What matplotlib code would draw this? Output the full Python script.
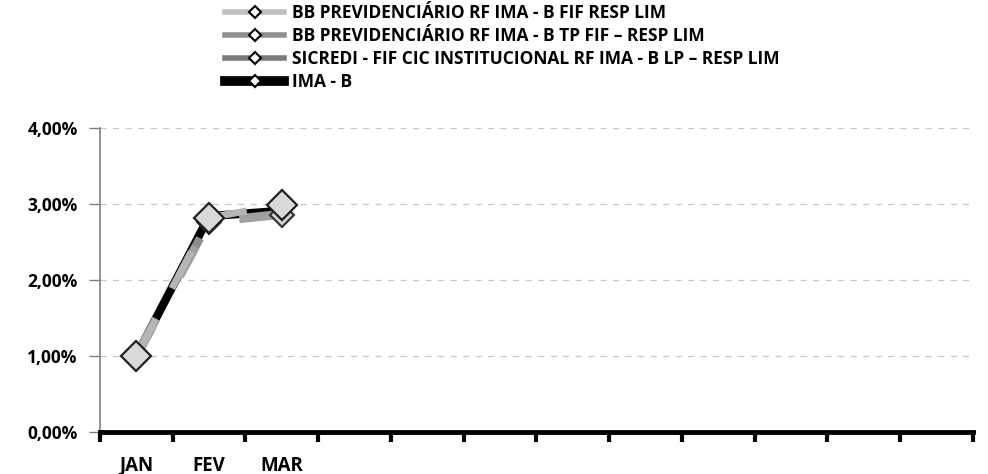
import matplotlib
matplotlib.use("Agg")
import matplotlib.pyplot as plt
from matplotlib.lines import Line2D

months = ["JAN", "FEV", "MAR", "", "", "", "", "", "", "", "", ""]
series_names = [
    "BB PREVIDENCIÁRIO RF IMA - B FIF RESP LIM",
    "BB PREVIDENCIÁRIO RF IMA - B TP FIF – RESP LIM",
    "SICREDI - FIF CIC INSTITUCIONAL RF IMA - B LP – RESP LIM",
    "IMA - B",
]
bb_fif = [1.00, 2.82, 2.99]
bb_tp = [0.99, 2.76, 2.86]
sicredi = [1.01, 2.77, 2.87]
imab = [1.00, 2.84, 2.91]
yticks = [0, 1, 2, 3, 4]

plt.rcParams['font.family'] = ['Open Sans', 'DejaVu Sans']

fig = plt.figure(figsize=(9.88, 4.74), dpi=100)
ax = fig.add_axes([0.1012, 0.0886, 0.8836, 0.6414])

x = list(range(len(bb_fif)))
# IMA-B black underneath
ax.plot(x, imab, color="black", lw=6, zorder=2, solid_capstyle="round")
ax.plot(x, imab, color="black", lw=0, marker="o", ms=6, zorder=2)
ax.plot(x, sicredi, color="#8c8c8c", lw=6, zorder=3, dashes=(5, 6))
ax.plot(x, bb_tp, color="#a0a0a0", lw=6, zorder=3, dashes=(4, 7),
        marker="D", ms=12, mfc="#d0d0d0", mec="#303030", mew=1.5)
ax.plot(x, bb_fif, color="#b5b5b5", lw=5, zorder=4, dashes=(6, 5),
        marker="D", ms=15, mfc="#d9d9d9", mec="#202020", mew=1.6)

ax.set_xlim(-0.5, 11.5)
ax.set_ylim(0, 4)
ax.set_yticks(yticks)
ax.set_yticklabels([f"{v:.2f}%".replace(".", ",") for v in yticks],
                   fontsize=12.5, fontweight="bold")
ax.set_xticks([i - 0.5 for i in range(13)])
ax.set_xticklabels([])
ax.set_xticks(range(12), minor=True)
ax.set_xticklabels(months, minor=True, fontsize=13.5, fontweight="bold")
ax.tick_params(axis="x", which="major", length=7, width=3, color="black", direction="out")
ax.tick_params(axis="x", which="minor", length=0, pad=17)
ax.tick_params(axis="y", length=8, width=1, color="#808080", pad=8)

ax.grid(axis="y", color="#c8c8c8", lw=0.9, ls=(0, (5, 5)))
ax.set_axisbelow(True)
for s in ["top", "right"]:
    ax.spines[s].set_visible(False)
ax.spines["left"].set_color("#808080")
ax.spines["left"].set_linewidth(1.2)
ax.spines["bottom"].set_color("black")
ax.spines["bottom"].set_linewidth(3.5)

handles = [
    Line2D([], [], color="#c0c0c0", lw=4, marker="D", ms=6, mfc="white", mec="black", mew=1.5),
    Line2D([], [], color="#8f8f8f", lw=4, marker="D", ms=6, mfc="white", mec="black", mew=1.5),
    Line2D([], [], color="#7a7a7a", lw=4, marker="D", ms=6, mfc="white", mec="black", mew=1.5),
    Line2D([], [], color="black", lw=7, marker="D", ms=6, mfc="white", mec="black", mew=1.5),
]
leg = fig.legend(handles, series_names, loc="upper left", bbox_to_anchor=(0.212, 1.025),
                 frameon=False, prop={"size": 12.5, "weight": "bold"},
                 handlelength=3.4, handletextpad=0.45, labelspacing=0.3)

fig.savefig("out.png", dpi=100)
